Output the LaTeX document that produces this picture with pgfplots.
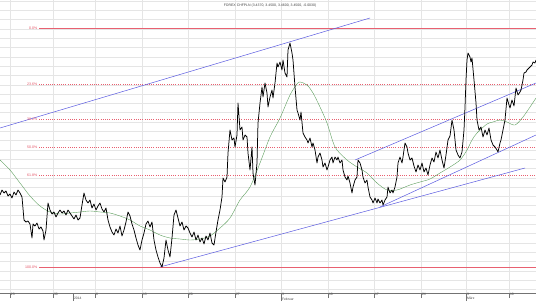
\documentclass[border=0pt]{standalone}
\usepackage{fontspec}
\setmainfont{Liberation Sans}
\usepackage{pgfplots}
\pgfplotsset{compat=1.18}
\definecolor{fibred}{RGB}{232,96,112}
\definecolor{fibtxt}{RGB}{226,80,98}
\definecolor{trend}{RGB}{90,90,224}
\definecolor{ma}{RGB}{94,158,94}
\begin{document}
\begin{tikzpicture}
\begin{axis}[name=ax, scale only axis, width=536bp, height=293bp,
  xmin=0, xmax=536, ymin=0, ymax=293, y dir=reverse,
  axis x line*=bottom, axis y line*=left,
  x axis line style={draw=black!55, line width=0.9bp},
  y axis line style={draw=none},
  ytick={1,10.3,...,293}, yticklabels={}, ytick style={draw=none},
  ymajorgrids, xmajorgrids,
  major grid style={draw=black!10, line width=0.4bp},
  xtick={10,53,95,142,188,235,281,328,374,421,466,509},
  xticklabels={23,30,6,13,20,27,3,10,17,24,3,10},
  xtick align=outside, major tick length=5bp,
  xtick style={draw=black!55, line width=0.4bp},
  xticklabel shift=-5bp,
  xticklabel style={anchor=north west, inner sep=0.4bp, xshift=0.4bp, font=\fontsize{3.4}{3.6}\selectfont, text=black!70},
  extra x ticks={73,281,466},
  extra x tick labels={2014,Februar,März},
  extra x tick style={grid=none, major tick length=8bp, xticklabel shift=-4bp},
  clip=false,
]
% Fibonacci levels
\addplot[color=fibred, line width=0.5bp] coordinates {(39,28) (536,28)};
\addplot[color=fibred, line width=0.55bp, dash pattern=on 1bp off 1.2bp] coordinates {(39,84.5) (536,84.5)};
\addplot[color=fibred, line width=0.55bp, dash pattern=on 1bp off 1.2bp] coordinates {(39,119.7) (536,119.7)};
\addplot[color=fibred, line width=0.55bp, dash pattern=on 1bp off 1.2bp] coordinates {(39,147.6) (536,147.6)};
\addplot[color=fibred, line width=0.55bp, dash pattern=on 1bp off 1.2bp] coordinates {(39,175.7) (536,175.7)};
\addplot[color=fibred, line width=0.5bp] coordinates {(39,267) (536,267)};
% trend lines
\addplot[color=trend, line width=0.5bp] coordinates {(0,128) (370,18)};
\addplot[color=trend, line width=0.5bp] coordinates {(160,267) (525,168)};
\addplot[color=trend, line width=0.5bp] coordinates {(355,160) (536,83)};
\addplot[color=trend, line width=0.5bp] coordinates {(380,207) (536,135)};
% moving average
\addplot[color=ma, line width=0.4bp, smooth] coordinates {
(0,160) (10,170) (20,183) (30,196) (40,206) (50,212) (60,214) (70,213) (80,212) (90,211)
(100,212) (110,213) (120,216) (130,220) (140,226) (150,230) (160,235) (170,238) (180,239)
(190,240) (200,239) (210,236) (220,228) (230,218) (240,200) (250,187) (260,163) (270,137)
(280,118) (290,95) (297,84) (300,82) (307,85) (313,93) (320,107) (327,123) (333,142)
(337,150) (347,160) (357,167) (367,173) (377,183) (387,190) (397,190) (410,185) (420,182)
(430,179) (440,173) (450,167) (460,160) (467,150) (472,140) (477,133) (487,124) (493,122)
(500,120) (507,122) (515,125) (523,117) (530,107) (536,98)};
% price
\addplot[color=black, line width=0.75bp, line join=round] coordinates {
(0,195) (2,190) (4,193) (6,191) (8,196) (10,194) (12,198) (14,192) (16,195) (18,190)
(20,193) (22,197) (24,220) (26,222) (28,221) (30,224) (32,238) (33,224) (35,226) (37,223)
(39,229) (41,227) (43,231) (44,240) (46,230) (48,203) (50,210) (52,214) (54,212) (56,217)
(58,213) (60,210) (62,213) (64,211) (66,215) (68,210) (70,213) (72,216) (74,219) (76,215)
(78,220) (80,218) (82,205) (84,193) (86,200) (88,203) (90,200) (92,208) (94,204) (96,210)
(98,206) (100,203) (102,209) (104,212) (106,208) (108,220) (110,227) (112,232) (114,235)
(116,229) (118,233) (120,226) (122,236) (124,230) (126,222) (128,212) (130,216) (132,224)
(134,230) (136,238) (138,245) (140,250) (142,240) (144,233) (146,224) (148,221) (150,227)
(152,222) (154,240) (156,250) (158,257) (160,263) (162,267) (164,258) (166,240) (168,250)
(170,257) (172,238) (174,215) (176,210) (178,218) (180,226) (182,222) (184,230) (186,226)
(188,228) (190,233) (192,237) (194,232) (196,240) (198,235) (200,242) (202,238) (204,244)
(206,236) (208,240) (210,233) (212,243) (214,245) (216,232) (218,220) (220,210) (222,197)
(223,178) (225,182) (227,177) (228,153) (230,130) (232,140) (234,138) (235,147) (237,135)
(238,103) (240,130) (242,127) (243,140) (245,135) (247,137) (248,153) (250,170) (252,147)
(253,173) (255,185) (257,163) (258,123) (260,103) (262,87) (263,97) (265,83) (267,93)
(268,107) (270,97) (272,90) (273,98) (275,83) (277,63) (278,67) (280,62) (282,70) (283,60)
(285,73) (287,77) (288,50) (290,43) (292,53) (293,60) (295,87) (297,110) (298,113) (300,120)
(301,112) (303,133) (305,137) (307,140) (308,143) (310,138) (312,147) (313,143) (315,150)
(317,163) (318,157) (320,153) (322,160) (323,167) (325,163) (327,170) (328,167) (330,160)
(332,157) (333,163) (335,157) (337,160) (338,157) (340,163) (342,160) (343,170) (345,177)
(347,180) (348,176) (350,183) (352,193) (353,187) (355,180) (357,177) (358,160) (360,163)
(362,170) (363,177) (365,183) (367,180) (368,187) (370,197) (372,200) (373,203) (375,198)
(377,203) (378,199) (380,203) (382,200) (383,205) (385,200) (387,197) (388,187) (390,193)
(392,190) (393,193) (395,187) (397,177) (398,163) (400,157) (402,163) (403,157) (405,143)
(407,147) (408,153) (410,160) (412,158) (414,166) (416,172) (418,165) (420,170) (422,163)
(424,172) (426,168) (428,175) (430,165) (432,158) (434,162) (436,152) (438,158) (440,150)
(442,160) (444,168) (446,155) (448,140) (450,136) (452,120) (454,130) (456,150) (458,155)
(460,158) (462,152) (464,130) (465,107) (466,80) (467,60) (468,53) (470,57) (471,62)
(472,58) (474,80) (476,103) (477,120) (479,130) (481,127) (483,137) (485,130) (487,135)
(489,128) (491,140) (493,145) (495,147) (497,150) (498,152) (500,143) (501,140) (503,130)
(505,120) (507,98) (509,105) (510,108) (512,100) (514,106) (516,88) (518,95) (520,92)
(521,90) (523,80) (524,73) (526,72) (527,70) (529,68) (530,67) (532,65) (533,62) (535,63)
(536,60)};
\node[anchor=east, inner sep=0.5bp, text=fibtxt, font=\fontsize{3.6}{4}\selectfont] at (axis cs:38,28) {0.0\%};
\node[anchor=east, inner sep=0.5bp, text=fibtxt, font=\fontsize{3.6}{4}\selectfont] at (axis cs:38,84.5) {23.6\%};
\node[anchor=east, inner sep=0.5bp, text=fibtxt, font=\fontsize{3.6}{4}\selectfont] at (axis cs:38,119.7) {38.2\%};
\node[anchor=east, inner sep=0.5bp, text=fibtxt, font=\fontsize{3.6}{4}\selectfont] at (axis cs:38,147.6) {50.0\%};
\node[anchor=east, inner sep=0.5bp, text=fibtxt, font=\fontsize{3.6}{4}\selectfont] at (axis cs:38,175.7) {61.8\%};
\node[anchor=east, inner sep=0.5bp, text=fibtxt, font=\fontsize{3.6}{4}\selectfont] at (axis cs:38,267) {100.0\%};
\node[anchor=center, inner sep=0pt, text=black!75, font=\fontsize{3.5}{4}\selectfont] at (axis cs:270,6) {FOREX CHFPLN (3.4370, 3.4500, 3.4600, 3.4500, -0.0030)};
\end{axis}
\pgfresetboundingbox
\path (ax.south west) ++(0,-9bp) rectangle (ax.north east);
\end{tikzpicture}
\end{document}
